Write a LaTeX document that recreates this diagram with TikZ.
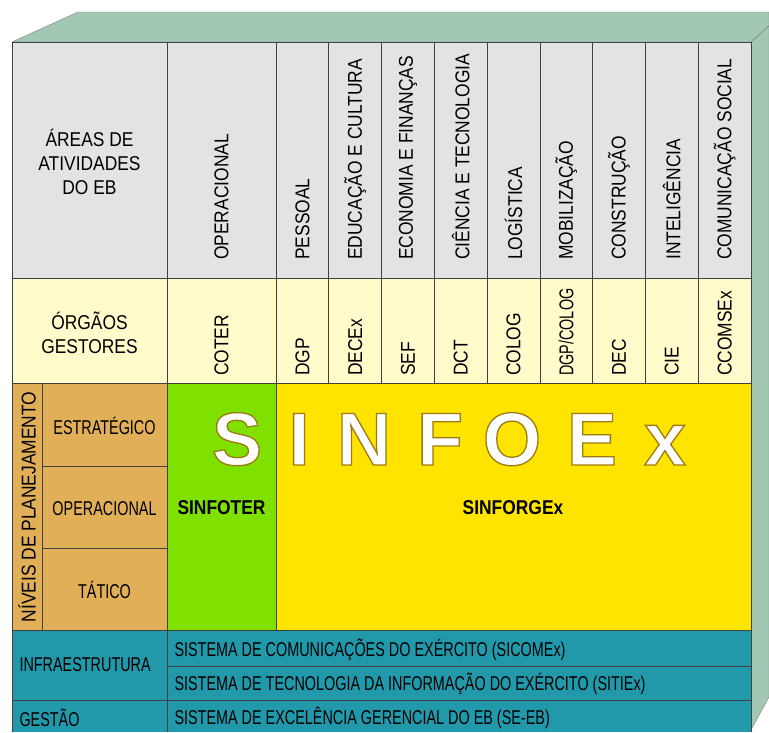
\documentclass[tikz,border=0pt]{standalone}
\usepackage{fontspec}
\setmainfont{Liberation Sans}[FakeStretch=0.87]
\newfontfamily\narrowfont{Liberation Sans}[FakeStretch=0.72]
\newfontfamily\blockfont{Liberation Sans}
\definecolor{boxside}{HTML}{A2C7B2}
\definecolor{hdgray}{HTML}{E3E3E3}
\definecolor{ltyellow}{HTML}{FFFBCB}
\definecolor{sand}{HTML}{E0AF58}
\definecolor{limegreen}{HTML}{80E100}
\definecolor{sunyellow}{HTML}{FFE400}
\definecolor{tealbar}{HTML}{2299AB}
% white letters with a thin brown edge
\newcommand{\edged}[1]{\special{pdf:code 2 Tr 1.3 w 0.61 0.48 0.06 RG}#1\special{pdf:code 0 Tr}}

\begin{document}
\begin{tikzpicture}[x=1pt,y=-1pt,font=\fontsize{20}{24}\selectfont,
  cell/.style={draw=black!75,line width=0.7pt},
  vlab/.style={rotate=90,anchor=west,inner sep=0pt},
  narrow/.style={font=\narrowfont\fontsize{20}{24}\selectfont},
  bigletter/.style={anchor=base,text=white,font=\blockfont\bfseries\fontsize{75}{75}\selectfont}]
\useasboundingbox (0,0) rectangle (769,732);
%box sides
\filldraw[boxside,draw=gray] (12,42) -- (78,12) -- (769,12) -- (769,26) -- (751,42) -- cycle;
\filldraw[boxside,draw=gray] (751,42) -- (769,26) -- (769,697) -- (751,730) -- cycle;
%fills
\fill[hdgray] (12,42) rectangle (751,278);
\fill[ltyellow] (12,278) rectangle (751,383);
\fill[sand] (12,383) rectangle (167,630);
\fill[limegreen] (167,383) rectangle (276,630);
\fill[sunyellow] (276,383) rectangle (751,630);
\fill[tealbar] (12,630) rectangle (751,732);
%grid
\draw[cell] (12,732) -- (12,42) -- (751,42) -- (751,732);
\foreach \y in {278,383,630,700} \draw[cell] (12,\y) -- (751,\y);
\draw[cell] (42,466) -- (167,466) (42,548) -- (167,548) (167,666) -- (751,666);
\draw[cell] (42,383) -- (42,630) (167,42) -- (167,732) (276,42) -- (276,630);
\foreach \i in {1,...,8} \draw[cell] ({276+52.78*\i},42) -- ({276+52.78*\i},383);
%header texts
\node[align=center] (areas) at (89.5,162) {ÁREAS DE\\ATIVIDADES\\DO EB};
\node[align=center] (orgaos) at (89.5,333) {ÓRGÃOS\\GESTORES};
\node[vlab] (oper) at (221.5,260) {OPERACIONAL};
\node[vlab] (coter) at (221.5,376) {COTER};
\foreach \area [count=\i from 0] in {PESSOAL,EDUCAÇÃO E CULTURA,ECONOMIA E FINANÇAS,CIÊNCIA E TECNOLOGIA,LOGÍSTICA,MOBILIZAÇÃO,CONSTRUÇÃO,INTELIGÊNCIA,COMUNICAÇÃO SOCIAL}
  \node[vlab] (area\i) at ({276+52.78*(\i+0.5)},260) {\area};
\foreach \org [count=\i from 0] in {DGP,DECEx,SEF,DCT,COLOG,{\narrowfont DGP/COLOG},DEC,CIE,CCOMSEx}
  \node[vlab] (org\i) at ({276+52.78*(\i+0.5)},376) {\org};
%levels
\node[rotate=90] (niveis) at (27,507) {NÍVEIS DE PLANEJAMENTO};
\node[narrow] (estrat) at (104.5,426) {ESTRATÉGICO};
\node[narrow] (operac) at (104.5,509) {OPERACIONAL};
\node[narrow] (tatico) at (104.5,590) {TÁTICO};
\node (sinfoter) at (221.5,508) {\bfseries SINFOTER};
\node (sinforgex) at (513,508) {\bfseries SINFORGEx};
\foreach \ch/\x in {S/237,I/299,N/364,F/440,O/512,E/592,x/665}
  \node[bigletter] (big\ch) at (\x,465) {\edged{\ch}};
%infrastructure
\node[narrow,anchor=west] (infra) at (16,665) {INFRAESTRUTURA};
\node[narrow,anchor=west] (gestao) at (16,718) {GESTÃO};
\node[narrow,anchor=west] (sicomex) at (171,650) {SISTEMA DE COMUNICAÇÕES DO EXÉRCITO (SICOMEx)};
\node[narrow,anchor=west] (sitiex) at (171,684) {SISTEMA DE TECNOLOGIA DA INFORMAÇÃO DO EXÉRCITO (SITIEx)};
\node[narrow,anchor=west] (seeb) at (171,718) {SISTEMA DE EXCELÊNCIA GERENCIAL DO EB (SE-EB)};
\end{tikzpicture}
\end{document}
